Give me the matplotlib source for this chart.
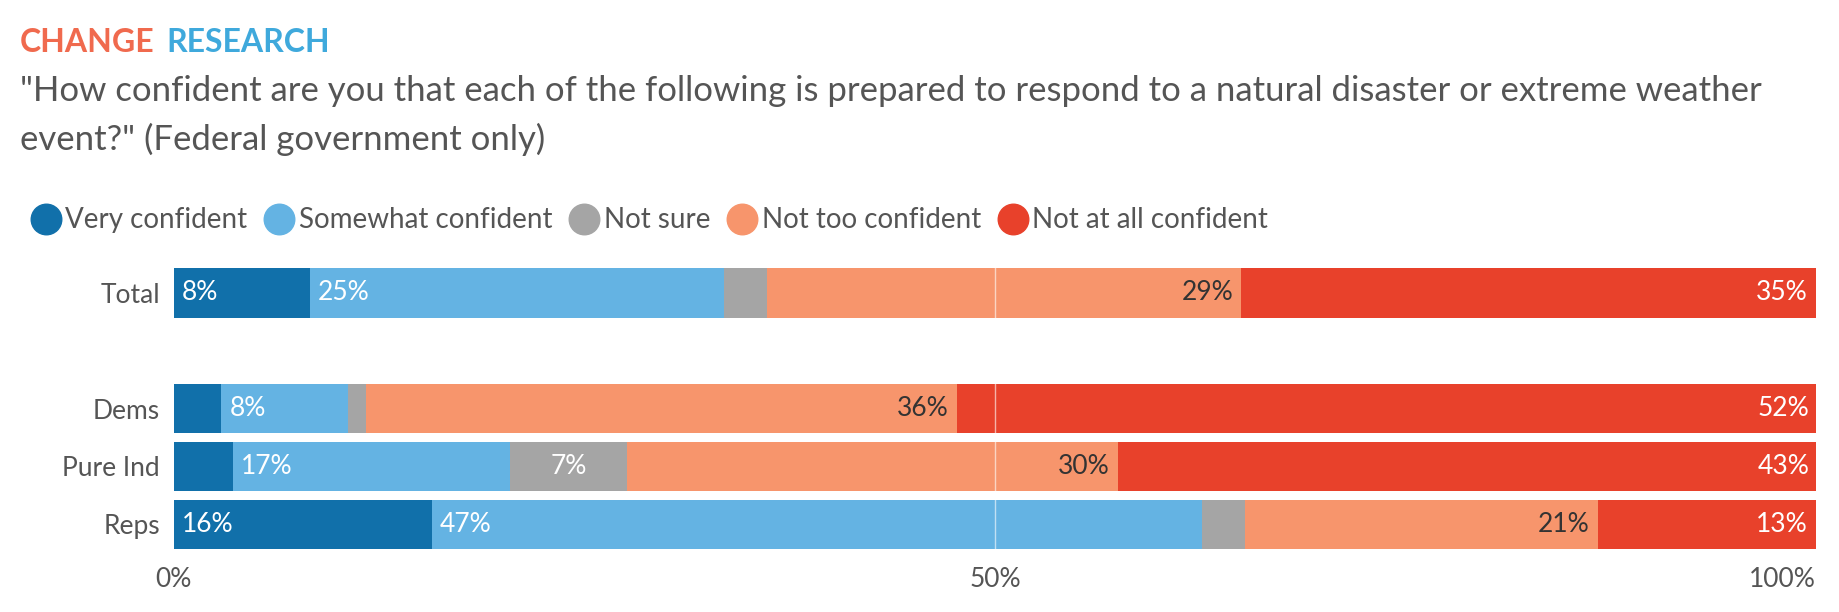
import matplotlib
matplotlib.use("Agg")
import matplotlib.pyplot as plt
import numpy as np
from matplotlib.lines import Line2D

plt.rcParams['font.family'] = ['Lato', 'DejaVu Sans']

groups = ["Total", "Dems", "Pure Ind", "Reps"]
positions = [4, 2, 1, 0]
series = ["Very confident", "Somewhat confident", "Not sure", "Not too confident", "Not at all confident"]
values = {
    "Very confident":      [8.3, 2.9, 3.6, 15.7],
    "Somewhat confident":  [25.2, 7.7, 16.9, 46.9],
    "Not sure":            [2.6, 1.1, 7.1, 2.6],
    "Not too confident":   [28.9, 36.0, 29.9, 21.5],
    "Not at all confident":[35.0, 52.4, 42.6, 13.3],
}
labels = {
    "Very confident":      ["8%", "", "", "16%"],
    "Somewhat confident":  ["25%", "8%", "17%", "47%"],
    "Not sure":            ["", "", "7%", ""],
    "Not too confident":   ["29%", "36%", "30%", "21%"],
    "Not at all confident":["35%", "52%", "43%", "13%"],
}
colors = ["#1170aa", "#64b3e3", "#a5a5a5", "#f7956c", "#e8412b"]
text_colors = ["white", "white", "white", "#333333", "white"]
align = ["left", "left", "center", "right", "right"]

fig = plt.figure(figsize=(18.4, 6.12), dpi=100)
ax = fig.add_axes([0.0944, 0.0963, 0.8926, 0.4722])

left = np.zeros(len(groups))
for i, s in enumerate(series):
    v = np.array(values[s])
    ax.barh(positions, v, left=left, height=0.85, color=colors[i], zorder=2)
    for j, p in enumerate(positions):
        t = labels[s][j]
        if not t:
            continue
        if align[i] == "left":
            x, ha = left[j] + 0.5, "left"
        elif align[i] == "right":
            x, ha = left[j] + v[j] - 0.5, "right"
        else:
            x, ha = left[j] + v[j] / 2, "center"
        ax.text(x, p, t, ha=ha, va="center", color=text_colors[i], fontsize=19, zorder=4)
    left += v

ax.axvline(50, color="white", lw=1, alpha=0.6, zorder=3)
ax.set_xlim(0, 100)
ax.set_ylim(-0.5, 4.5)
ax.set_xticks([0, 50, 100])
ax.set_xticklabels(["0%", "50%", "100%"], fontsize=19, color="#555555")
ax.get_xticklabels()[-1].set_ha("right")
ax.set_yticks(positions)
ax.set_yticklabels(groups, fontsize=19, color="#555555")
ax.tick_params(length=0, pad=10)
for sp in ax.spines.values():
    sp.set_visible(False)

# Logo
t1 = fig.text(0.011, 0.915, "CHANGE", color="#f06a4e", fontsize=23, fontweight="bold", va="baseline")
fig.canvas.draw()
bb = t1.get_window_extent()
fig.text(bb.x1 / fig.bbox.width + 0.006, 0.915, "RESEARCH", color="#3fa9dc", fontsize=23, fontweight="bold", va="baseline")
fig.text(0.011, 0.835, "\"How confident are you that each of the following is prepared to respond to a natural disaster or extreme weather",
         color="#555555", fontsize=25, va="baseline")
fig.text(0.011, 0.755, "event?\" (Federal government only)", color="#555555", fontsize=25, va="baseline")

# Legend
handles = [Line2D([0], [0], marker='o', color='none', markerfacecolor=c, markeredgecolor=c, markersize=22) for c in colors]
fig.legend(handles, series, loc="center left", bbox_to_anchor=(0.003, 0.64), ncol=5, frameon=False,
           fontsize=20, labelcolor="#555555", handletextpad=0.15, columnspacing=0.6, handlelength=1.1)

fig.savefig("out.png", dpi=100)
